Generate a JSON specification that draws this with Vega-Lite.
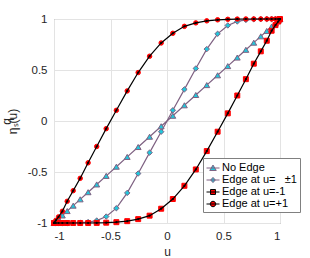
{
  "$schema": "https://vega.github.io/schema/vega-lite/v6.json",
  "width": 226,
  "height": 204,
  "autosize": "none",
  "padding": {"left": 54, "top": 19, "right": 30, "bottom": 35},
  "background": "white",
  "config": {
    "font": "Liberation Sans",
    "view": {"stroke": "#808080", "strokeWidth": 1},
    "axis": {
      "grid": true,
      "gridColor": "#e3e3e3",
      "gridWidth": 1,
      "domain": false,
      "ticks": false,
      "tickSize": 0,
      "labelFontSize": 11.5,
      "labelColor": "#262626",
      "titleColor": "#262626",
      "titleFontWeight": "normal",
      "titleFontSize": 12,
      "labelExpr": "datum.value + ''"
    }
  },
  "data": {
    "values": [
      {"s": "No Edge", "u": -1, "y": -1},
      {"s": "No Edge", "u": -0.997, "y": -0.997},
      {"s": "No Edge", "u": -0.984, "y": -0.984},
      {"s": "No Edge", "u": -0.96, "y": -0.96},
      {"s": "No Edge", "u": -0.926, "y": -0.926},
      {"s": "No Edge", "u": -0.883, "y": -0.883},
      {"s": "No Edge", "u": -0.83, "y": -0.83},
      {"s": "No Edge", "u": -0.768, "y": -0.768},
      {"s": "No Edge", "u": -0.698, "y": -0.698},
      {"s": "No Edge", "u": -0.622, "y": -0.622},
      {"s": "No Edge", "u": -0.538, "y": -0.538},
      {"s": "No Edge", "u": -0.448, "y": -0.448},
      {"s": "No Edge", "u": -0.352, "y": -0.352},
      {"s": "No Edge", "u": -0.255, "y": -0.255},
      {"s": "No Edge", "u": -0.154, "y": -0.154},
      {"s": "No Edge", "u": -0.0515, "y": -0.0515},
      {"s": "No Edge", "u": 0.0515, "y": 0.0515},
      {"s": "No Edge", "u": 0.154, "y": 0.154},
      {"s": "No Edge", "u": 0.255, "y": 0.255},
      {"s": "No Edge", "u": 0.352, "y": 0.352},
      {"s": "No Edge", "u": 0.448, "y": 0.448},
      {"s": "No Edge", "u": 0.538, "y": 0.538},
      {"s": "No Edge", "u": 0.622, "y": 0.622},
      {"s": "No Edge", "u": 0.698, "y": 0.698},
      {"s": "No Edge", "u": 0.768, "y": 0.768},
      {"s": "No Edge", "u": 0.83, "y": 0.83},
      {"s": "No Edge", "u": 0.883, "y": 0.883},
      {"s": "No Edge", "u": 0.926, "y": 0.926},
      {"s": "No Edge", "u": 0.96, "y": 0.96},
      {"s": "No Edge", "u": 0.984, "y": 0.984},
      {"s": "No Edge", "u": 0.997, "y": 0.997},
      {"s": "No Edge", "u": 1, "y": 1},

      {"s": "Edge at u=±1", "u": -1, "y": -1},
      {"s": "Edge at u=±1", "u": -0.997, "y": -1},
      {"s": "Edge at u=±1", "u": -0.984, "y": -1},
      {"s": "Edge at u=±1", "u": -0.96, "y": -1},
      {"s": "Edge at u=±1", "u": -0.926, "y": -1},
      {"s": "Edge at u=±1", "u": -0.883, "y": -1},
      {"s": "Edge at u=±1", "u": -0.83, "y": -0.999},
      {"s": "Edge at u=±1", "u": -0.768, "y": -0.997},
      {"s": "Edge at u=±1", "u": -0.698, "y": -0.991},
      {"s": "Edge at u=±1", "u": -0.622, "y": -0.976},
      {"s": "Edge at u=±1", "u": -0.538, "y": -0.937},
      {"s": "Edge at u=±1", "u": -0.448, "y": -0.855},
      {"s": "Edge at u=±1", "u": -0.352, "y": -0.705},
      {"s": "Edge at u=±1", "u": -0.255, "y": -0.515},
      {"s": "Edge at u=±1", "u": -0.154, "y": -0.31},
      {"s": "Edge at u=±1", "u": -0.0515, "y": -0.105},
      {"s": "Edge at u=±1", "u": 0.0515, "y": 0.105},
      {"s": "Edge at u=±1", "u": 0.154, "y": 0.31},
      {"s": "Edge at u=±1", "u": 0.255, "y": 0.515},
      {"s": "Edge at u=±1", "u": 0.352, "y": 0.705},
      {"s": "Edge at u=±1", "u": 0.448, "y": 0.855},
      {"s": "Edge at u=±1", "u": 0.538, "y": 0.937},
      {"s": "Edge at u=±1", "u": 0.622, "y": 0.976},
      {"s": "Edge at u=±1", "u": 0.698, "y": 0.991},
      {"s": "Edge at u=±1", "u": 0.768, "y": 0.997},
      {"s": "Edge at u=±1", "u": 0.83, "y": 0.999},
      {"s": "Edge at u=±1", "u": 0.883, "y": 1},
      {"s": "Edge at u=±1", "u": 0.926, "y": 1},
      {"s": "Edge at u=±1", "u": 0.96, "y": 1},
      {"s": "Edge at u=±1", "u": 0.984, "y": 1},
      {"s": "Edge at u=±1", "u": 0.997, "y": 1},
      {"s": "Edge at u=±1", "u": 1, "y": 1},

      {"s": "Edge at u=-1", "u": -1, "y": -1},
      {"s": "Edge at u=-1", "u": -0.997, "y": -1},
      {"s": "Edge at u=-1", "u": -0.984, "y": -1},
      {"s": "Edge at u=-1", "u": -0.96, "y": -1},
      {"s": "Edge at u=-1", "u": -0.926, "y": -1},
      {"s": "Edge at u=-1", "u": -0.883, "y": -1},
      {"s": "Edge at u=-1", "u": -0.83, "y": -1},
      {"s": "Edge at u=-1", "u": -0.768, "y": -1},
      {"s": "Edge at u=-1", "u": -0.698, "y": -1},
      {"s": "Edge at u=-1", "u": -0.622, "y": -0.999},
      {"s": "Edge at u=-1", "u": -0.538, "y": -0.997},
      {"s": "Edge at u=-1", "u": -0.448, "y": -0.992},
      {"s": "Edge at u=-1", "u": -0.352, "y": -0.982},
      {"s": "Edge at u=-1", "u": -0.255, "y": -0.962},
      {"s": "Edge at u=-1", "u": -0.154, "y": -0.928},
      {"s": "Edge at u=-1", "u": -0.0515, "y": -0.86},
      {"s": "Edge at u=-1", "u": 0.0515, "y": -0.765},
      {"s": "Edge at u=-1", "u": 0.154, "y": -0.635},
      {"s": "Edge at u=-1", "u": 0.255, "y": -0.475},
      {"s": "Edge at u=-1", "u": 0.352, "y": -0.295},
      {"s": "Edge at u=-1", "u": 0.448, "y": -0.105},
      {"s": "Edge at u=-1", "u": 0.538, "y": 0.075},
      {"s": "Edge at u=-1", "u": 0.622, "y": 0.25},
      {"s": "Edge at u=-1", "u": 0.698, "y": 0.41},
      {"s": "Edge at u=-1", "u": 0.768, "y": 0.562},
      {"s": "Edge at u=-1", "u": 0.83, "y": 0.683},
      {"s": "Edge at u=-1", "u": 0.883, "y": 0.787},
      {"s": "Edge at u=-1", "u": 0.926, "y": 0.885},
      {"s": "Edge at u=-1", "u": 0.96, "y": 0.94},
      {"s": "Edge at u=-1", "u": 0.984, "y": 0.975},
      {"s": "Edge at u=-1", "u": 0.997, "y": 0.995},
      {"s": "Edge at u=-1", "u": 1, "y": 1},

      {"s": "Edge at u=+1", "u": -1, "y": -1},
      {"s": "Edge at u=+1", "u": -0.997, "y": -0.995},
      {"s": "Edge at u=+1", "u": -0.984, "y": -0.975},
      {"s": "Edge at u=+1", "u": -0.96, "y": -0.94},
      {"s": "Edge at u=+1", "u": -0.926, "y": -0.885},
      {"s": "Edge at u=+1", "u": -0.883, "y": -0.787},
      {"s": "Edge at u=+1", "u": -0.83, "y": -0.683},
      {"s": "Edge at u=+1", "u": -0.768, "y": -0.562},
      {"s": "Edge at u=+1", "u": -0.698, "y": -0.41},
      {"s": "Edge at u=+1", "u": -0.622, "y": -0.25},
      {"s": "Edge at u=+1", "u": -0.538, "y": -0.075},
      {"s": "Edge at u=+1", "u": -0.448, "y": 0.105},
      {"s": "Edge at u=+1", "u": -0.352, "y": 0.295},
      {"s": "Edge at u=+1", "u": -0.255, "y": 0.475},
      {"s": "Edge at u=+1", "u": -0.154, "y": 0.635},
      {"s": "Edge at u=+1", "u": -0.0515, "y": 0.765},
      {"s": "Edge at u=+1", "u": 0.0515, "y": 0.86},
      {"s": "Edge at u=+1", "u": 0.154, "y": 0.928},
      {"s": "Edge at u=+1", "u": 0.255, "y": 0.962},
      {"s": "Edge at u=+1", "u": 0.352, "y": 0.982},
      {"s": "Edge at u=+1", "u": 0.448, "y": 0.992},
      {"s": "Edge at u=+1", "u": 0.538, "y": 0.997},
      {"s": "Edge at u=+1", "u": 0.622, "y": 0.999},
      {"s": "Edge at u=+1", "u": 0.698, "y": 1},
      {"s": "Edge at u=+1", "u": 0.768, "y": 1},
      {"s": "Edge at u=+1", "u": 0.83, "y": 1},
      {"s": "Edge at u=+1", "u": 0.883, "y": 1},
      {"s": "Edge at u=+1", "u": 0.926, "y": 1},
      {"s": "Edge at u=+1", "u": 0.96, "y": 1},
      {"s": "Edge at u=+1", "u": 0.984, "y": 1},
      {"s": "Edge at u=+1", "u": 0.997, "y": 1},
      {"s": "Edge at u=+1", "u": 1, "y": 1}
    ]
  },
  "encoding": {
    "x": {
      "field": "u", "type": "quantitative",
      "scale": {"domain": [-1, 1], "nice": false, "zero": false},
      "axis": {"values": [-1, -0.5, 0, 0.5, 1], "title": "u", "labelPadding": 7, "titlePadding": 5}
    },
    "y": {
      "field": "y", "type": "quantitative",
      "scale": {"domain": [-1, 1], "nice": false, "zero": false},
      "axis": {"values": [-1, -0.5, 0, 0.5, 1], "title": ["q\u00a0\u00a0\u00a0\u00a0\u00a0", "ηₛ(u)"], "titleLineHeight": 6, "labelPadding": 7, "titlePadding": 8}
    }
  },
  "resolve": {"scale": {"shape": "independent", "fill": "independent", "stroke": "independent", "size": "independent"}, "legend": {"shape": "independent", "fill": "independent", "stroke": "independent"}},
  "layer": [
    {
      "transform": [{"filter": {"field": "s", "oneOf": ["No Edge", "Edge at u=±1"]}}],
      "mark": {"type": "line", "strokeWidth": 1.2, "clip": false},
      "encoding": {
        "color": {
          "field": "s", "type": "nominal", "legend": null,
          "scale": {"domain": ["No Edge", "Edge at u=±1", "Edge at u=-1", "Edge at u=+1"], "range": ["#7e6182", "#7e6182", "#000000", "#000000"]}
        }
      }
    },
    {
      "mark": {"type": "point", "filled": true, "strokeWidth": 1, "clip": false, "opacity": 1},
      "encoding": {
        "shape": {"field": "s", "type": "nominal", "legend": null,
          "scale": {"domain": ["No Edge", "Edge at u=±1", "Edge at u=-1", "Edge at u=+1"], "range": ["triangle-up", "diamond", "square", "circle"]}},
        "fill": {"field": "s", "type": "nominal", "legend": null,
          "scale": {"domain": ["No Edge", "Edge at u=±1", "Edge at u=-1", "Edge at u=+1"], "range": ["#22c6da", "#22c6da", "#ff0000", "#ff0000"]}},
        "stroke": {"field": "s", "type": "nominal", "legend": null,
          "scale": {"domain": ["No Edge", "Edge at u=±1", "Edge at u=-1", "Edge at u=+1"], "range": ["#7e6182", "#7e6182", "#ff0000", "#ff0000"]}},
        "size": {"field": "s", "type": "ordinal", "legend": null,
          "scale": {"domain": ["No Edge", "Edge at u=±1", "Edge at u=-1", "Edge at u=+1"], "range": [34, 20, 24, 26]}}
      }
    },
    {
      "transform": [{"filter": {"field": "s", "oneOf": ["Edge at u=-1", "Edge at u=+1"]}}],
      "mark": {"type": "line", "strokeWidth": 1.2, "clip": false},
      "encoding": {
        "color": {"field": "s", "type": "nominal", "legend": null}
      }
    },
    {
      "transform": [{"filter": {"field": "s", "oneOf": ["Edge at u=-1", "Edge at u=+1"]}}],
      "mark": {"type": "point", "filled": true, "color": "#000000", "size": 5, "opacity": 1, "clip": false},
      "encoding": {}
    },
    {
      "transform": [{"filter": {"field": "u", "gt": 5}}],
      "mark": {"type": "point", "filled": true, "strokeWidth": 1, "opacity": 1},
      "encoding": {
        "shape": {"field": "s", "type": "nominal",
          "scale": {"domain": ["No Edge", "Edge at u=±1", "Edge at u=-1", "Edge at u=+1"],
            "range": ["M-1,0L1,0M0,-0.45L0.5,0.38L-0.5,0.38Z", "M-1,0L1,0M0,-0.4L0.36,0L0,0.4L-0.36,0Z", "M-1,0L1,0M-0.38,-0.38L0.38,-0.38L0.38,0.38L-0.38,0.38Z", "M-1,0L1,0M-0.42,0A0.42,0.42,0,1,0,0.42,0A0.42,0.42,0,1,0,-0.42,0Z"]},
          "legend": {
            "title": null,
            "orient": "none",
            "legendX": 149,
            "legendY": 139,
            "padding": 3,
            "fillColor": "white",
            "strokeColor": "#808080",
            "cornerRadius": 0,
            "labelFontSize": 11,
            "labelColor": "#000000",
            "labelOffset": 2,
            "symbolSize": 169,
            "symbolStrokeWidth": 1,
            "symbolOpacity": 1,
            "rowPadding": 0,
            "labelExpr": "datum.label === 'Edge at u=±1' ? 'Edge at u=\u00a0\u00a0\u00a0±1\u00a0\u00a0\u00a0\u00a0\u00a0' : datum.label"
          }
        },
        "fill": {"field": "s", "type": "nominal",
          "scale": {"domain": ["No Edge", "Edge at u=±1", "Edge at u=-1", "Edge at u=+1"], "range": ["#22c6da", "#22c6da", "#ff0000", "#ff0000"]}},
        "stroke": {"field": "s", "type": "nominal",
          "scale": {"domain": ["No Edge", "Edge at u=±1", "Edge at u=-1", "Edge at u=+1"], "range": ["#7e6182", "#7e6182", "#000000", "#000000"]}}
      }
    }
  ]
}
